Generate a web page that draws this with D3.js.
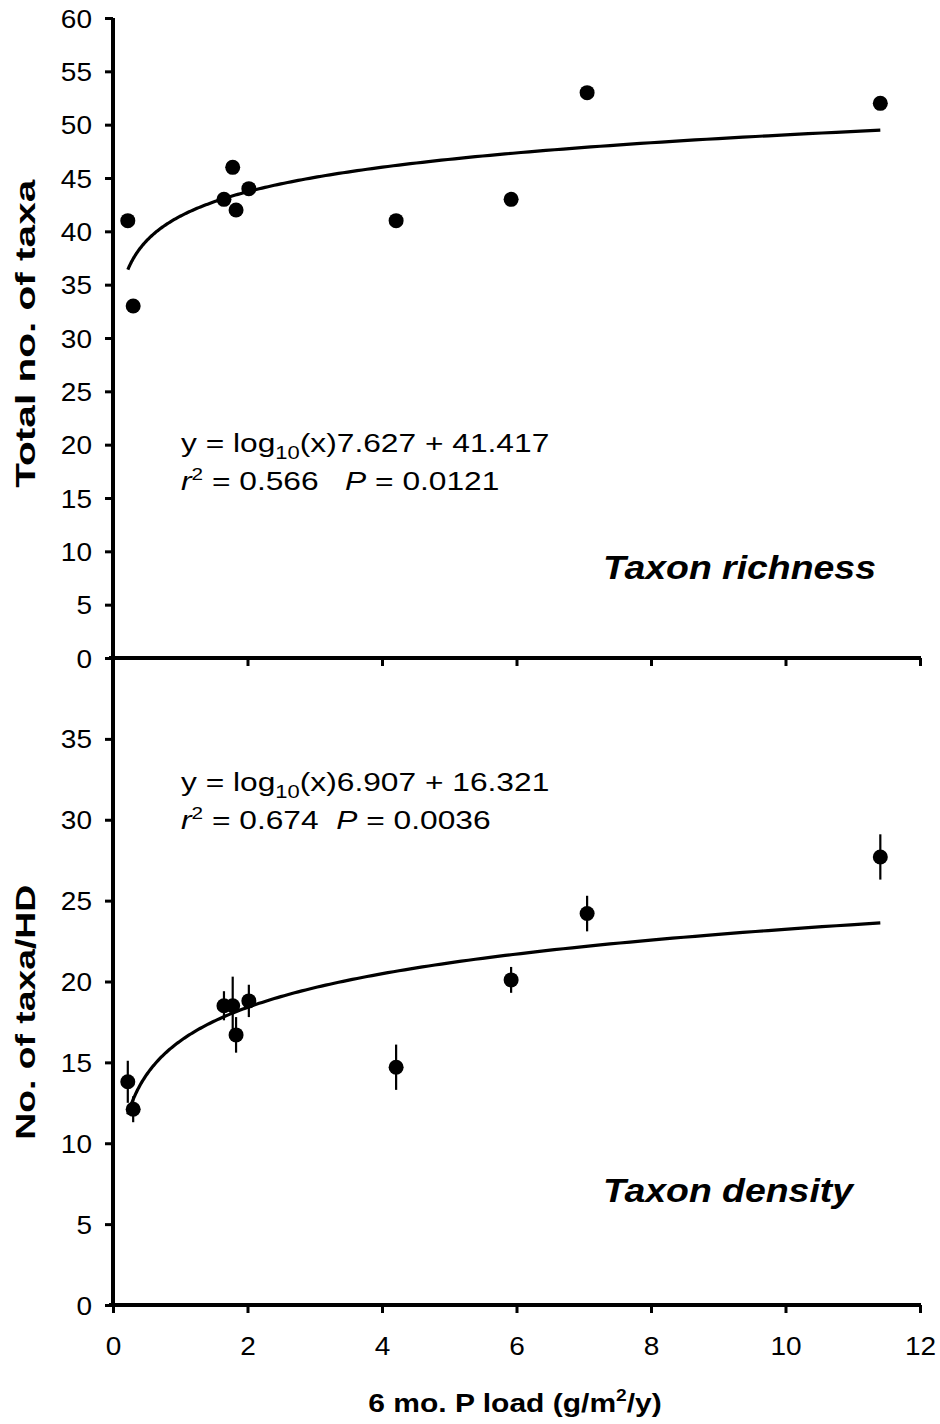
<!DOCTYPE html>
<html>
<head>
<meta charset="utf-8">
<script src="https://cdn.jsdelivr.net/npm/d3@7"></script>
<style>
  html, body { margin: 0; padding: 0; background: #fff; }
  svg { display: block; }
  text { font-family: "Liberation Sans", Arial, sans-serif; fill: #000; }
</style>
</head>
<body>
<svg id="chart" width="940" height="1424"></svg>
<script>
// ---------- data ----------
const pLoad      = [0.22, 0.30, 1.65, 1.78, 1.83, 2.02, 4.21, 5.92, 7.05, 11.41];
const richness   = [41, 33, 43, 46, 42, 44, 41, 43, 53, 52];
const density    = [13.8, 12.1, 18.5, 18.5, 16.7, 18.8, 14.7, 20.1, 24.2, 27.7];
const densityErr = [1.3, 0.8, 0.9, 1.8, 1.1, 1.0, 1.4, 0.8, 1.1, 1.4];
const xTicks     = [0, 2, 4, 6, 8, 10, 12];
const richTicks  = [0, 5, 10, 15, 20, 25, 30, 35, 40, 45, 50, 55, 60];
const densTicks  = [0, 5, 10, 15, 20, 25, 30, 35];
const richFit    = { slope: 7.627, intercept: 41.417 };
const densFit    = { slope: 6.907, intercept: 16.321 };

// ---------- layout ----------
const svg = d3.select("#chart");
const x = d3.scaleLinear().domain([0, 12]).range([113, 920]);
const yTop = d3.scaleLinear().domain([0, 60]).range([658, 18]);
const yBot = d3.scaleLinear().domain([0, 40]).range([1305, 658]);
const SX = 1.12;

function drawPanel(y, ticks, showXLabels) {
  const ya = svg.append("g").attr("transform", `translate(${x(0)},0)`)
    .call(d3.axisLeft(y).tickValues(ticks).tickSize(8).tickFormat(d3.format("d")));
  ya.select(".domain").remove();
  ya.selectAll(".tick line").attr("stroke", "#000").attr("stroke-width", 3);
  ya.selectAll(".tick text").style("font-size", "25px").attr("dy", "0.36em")
    .attr("x", -21 / SX).attr("transform", `scale(${SX},1)`);
  svg.append("line").attr("x1", x(0)).attr("x2", x(0))
    .attr("y1", y.range()[1]).attr("y2", y.range()[0])
    .attr("stroke", "#000").attr("stroke-width", 4);

  const xa = svg.append("g").attr("transform", `translate(0,${y(0)})`)
    .call(d3.axisBottom(x).tickValues(xTicks).tickSize(8).tickPadding(24)
      .tickFormat(showXLabels ? d3.format("d") : () => ""));
  xa.select(".domain").remove();
  xa.selectAll(".tick line").attr("stroke", "#000").attr("stroke-width", 3);
  xa.selectAll(".tick text").style("font-size", "25px").attr("transform", `scale(${SX},1)`);
  svg.append("line").attr("x1", x(0) - 4).attr("x2", x(12) + 1)
    .attr("y1", y(0)).attr("y2", y(0))
    .attr("stroke", "#000").attr("stroke-width", 4);
}

drawPanel(yTop, richTicks, false);
drawPanel(yBot, densTicks, true);

// fitted curves
const xs = d3.range(0, 201).map(i => pLoad[0] * Math.pow(pLoad[9] / pLoad[0], i / 200));
function fitLine(y, fit) {
  svg.append("path")
    .datum(xs)
    .attr("fill", "none").attr("stroke", "#000").attr("stroke-width", 3.2)
    .attr("d", d3.line().x(d => x(d)).y(d => y(fit.intercept + fit.slope * Math.log10(d))));
}
fitLine(yTop, richFit);
fitLine(yBot, densFit);

// points - top
svg.append("g").selectAll("circle").data(pLoad).join("circle")
  .attr("cx", d => x(d)).attr("cy", (d, i) => yTop(richness[i])).attr("r", 7.5).attr("fill", "#000");

// error bars + points - bottom
svg.append("g").selectAll("line").data(pLoad).join("line")
  .attr("x1", d => x(d)).attr("x2", d => x(d))
  .attr("y1", (d, i) => yBot(density[i] - densityErr[i]))
  .attr("y2", (d, i) => yBot(density[i] + densityErr[i]))
  .attr("stroke", "#000").attr("stroke-width", 2.2);
svg.append("g").selectAll("circle").data(pLoad).join("circle")
  .attr("cx", d => x(d)).attr("cy", (d, i) => yBot(density[i])).attr("r", 7.5).attr("fill", "#000");

// axis titles
svg.append("text").attr("transform", `translate(35,${yTop(30.4)}) rotate(-90)`)
  .attr("text-anchor", "middle").style("font-size", "28px").style("font-weight", "bold")
  .attr("textLength", 308).attr("lengthAdjust", "spacingAndGlyphs")
  .text("Total no. of taxa");
svg.append("text").attr("transform", `translate(35,${yBot(18.1)}) rotate(-90)`)
  .attr("text-anchor", "middle").style("font-size", "28px").style("font-weight", "bold")
  .attr("textLength", 255).attr("lengthAdjust", "spacingAndGlyphs")
  .text("No. of taxa/HD");
const xt = svg.append("text").attr("transform", `translate(515,1412) scale(1.2,1)`)
  .attr("text-anchor", "middle")
  .style("font-size", "25px").style("font-weight", "bold");
xt.append("tspan").text("6 mo. P load (g/m");
xt.append("tspan").attr("dy", -11).style("font-size", "16px").text("2");
xt.append("tspan").attr("dy", 11).text("/y)");

// equations
function equation(x0, y0, slope, inter, r2, p, gap) {
  const g = svg.append("g").attr("transform", `translate(${x0},${y0}) scale(1.22,1)`);
  const t1 = g.append("text").style("font-size", "26px");
  t1.append("tspan").text("y = log");
  t1.append("tspan").attr("dy", 7).style("font-size", "18px").text("10");
  t1.append("tspan").attr("dy", -7).text(`(x)${slope} + ${inter}`);
  const t2 = g.append("text").attr("y", 38).style("font-size", "26px")
    .attr("xml:space", "preserve");
  t2.append("tspan").style("font-style", "italic").text("r");
  t2.append("tspan").attr("dy", -10).style("font-size", "17px").text("2");
  t2.append("tspan").attr("dy", 10).text(` = ${r2}${gap}`);
  t2.append("tspan").style("font-style", "italic").text("P");
  t2.append("tspan").text(` = ${p}`);
}
equation(181, 452, "7.627", "41.417", "0.566", "0.0121", "   ");
equation(181, 791, "6.907", "16.321", "0.674", "0.0036", "  ");

// panel labels
svg.append("text").attr("transform", "translate(603,579) scale(1.1,1)").style("font-size", "34px")
  .style("font-weight", "bold").style("font-style", "italic").text("Taxon richness");
svg.append("text").attr("transform", "translate(603,1202) scale(1.1,1)").style("font-size", "34px")
  .style("font-weight", "bold").style("font-style", "italic").text("Taxon density");
</script>
</body>
</html>
